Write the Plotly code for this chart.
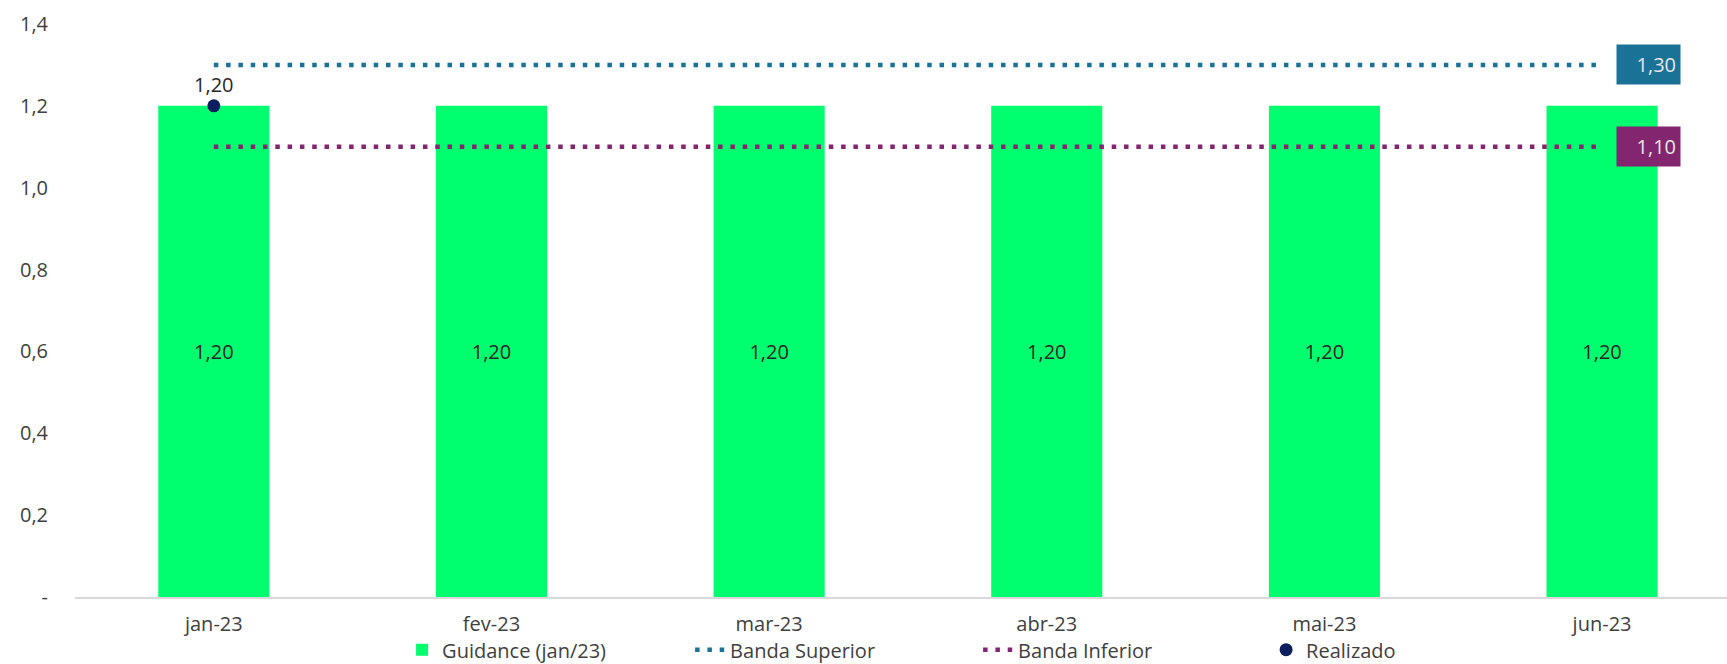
import plotly.graph_objects as go

categories = ["jan-23", "fev-23", "mar-23", "abr-23", "mai-23", "jun-23"]
guidance = [1.20, 1.20, 1.20, 1.20, 1.20, 1.20]
banda_superior = [1.30, 1.30, 1.30, 1.30, 1.30, 1.30]
banda_inferior = [1.10, 1.10, 1.10, 1.10, 1.10, 1.10]
realizado = [1.20, None, None, None, None, None]
y_ticks = [0, 0.2, 0.4, 0.6, 0.8, 1.0, 1.2, 1.4]
y_ticktext = ["-", "0,2", "0,4", "0,6", "0,8", "1,0", "1,2", "1,4"]

def br(v):
    return f"{v:.2f}".replace(".", ",")

GREEN = "#00FF6E"
BLUE = "#1B7297"
PURPLE = "#83256F"
NAVY = "#0B1F5E"
FONT = "Open Sans"
TXT = "#404040"

fig = go.Figure()
fig.add_trace(go.Bar(
    x=categories, y=guidance, name="Guidance (jan/23)",
    marker=dict(color=GREEN, line=dict(width=0)), width=0.4,
    text=[br(v) for v in guidance], textposition="inside",
    insidetextanchor="middle", textangle=0,
    textfont=dict(family=FONT, size=20, color="#262626"),
))
fig.add_trace(go.Scatter(
    x=categories, y=banda_superior, name="Banda Superior", mode="lines",
    line=dict(color=BLUE, width=4.5, dash="4.5px,7.8px"),
))
fig.add_trace(go.Scatter(
    x=categories, y=banda_inferior, name="Banda Inferior", mode="lines",
    line=dict(color=PURPLE, width=4.5, dash="4.5px,7.8px"),
))
fig.add_trace(go.Scatter(
    x=categories, y=realizado, name="Realizado", mode="markers+text",
    marker=dict(color=NAVY, size=13),
    text=[br(v) if v is not None else "" for v in realizado],
    textposition="top center",
    textfont=dict(family=FONT, size=20, color="#262626"),
))

# end labels for the bands
for vals, col in ((banda_superior, BLUE), (banda_inferior, PURPLE)):
    fig.add_annotation(
        x=categories[-1], y=vals[-1], xref="x", yref="y",
        text=br(vals[-1]), showarrow=False, xanchor="left", yanchor="middle",
        xshift=14, bgcolor=col, width=55, height=31, borderpad=4, align="right",
        font=dict(family=FONT, size=20, color="#E6E6E6"),
    )

fig.update_layout(
    width=1727, height=664,
    margin=dict(l=75, r=0, t=24, b=67, autoexpand=False),
    plot_bgcolor="white", paper_bgcolor="white",
    font=dict(family=FONT, size=20, color=TXT),
    bargap=0.6,
    showlegend=True,
    legend=dict(
        orientation="h", x=0.198, xanchor="left", y=-0.092, yanchor="middle",
        font=dict(family=FONT, size=20, color=TXT),
        entrywidth=243, entrywidthmode="pixels",
        bgcolor="rgba(0,0,0,0)",
    ),
    xaxis=dict(
        range=[-0.5, 5.45], showgrid=False, zeroline=False,
        showline=True, linecolor="#D9D9D9", linewidth=2,
        ticks="", ticklabelstandoff=8,
        tickfont=dict(family=FONT, size=20, color=TXT),
    ),
    yaxis=dict(
        range=[0, 1.4], tickvals=y_ticks, ticktext=y_ticktext,
        showgrid=False, zeroline=False, showline=False, ticks="",
        ticklabelstandoff=26,
        tickfont=dict(family=FONT, size=20, color=TXT),
    ),
)

fig.write_html("out.html")
